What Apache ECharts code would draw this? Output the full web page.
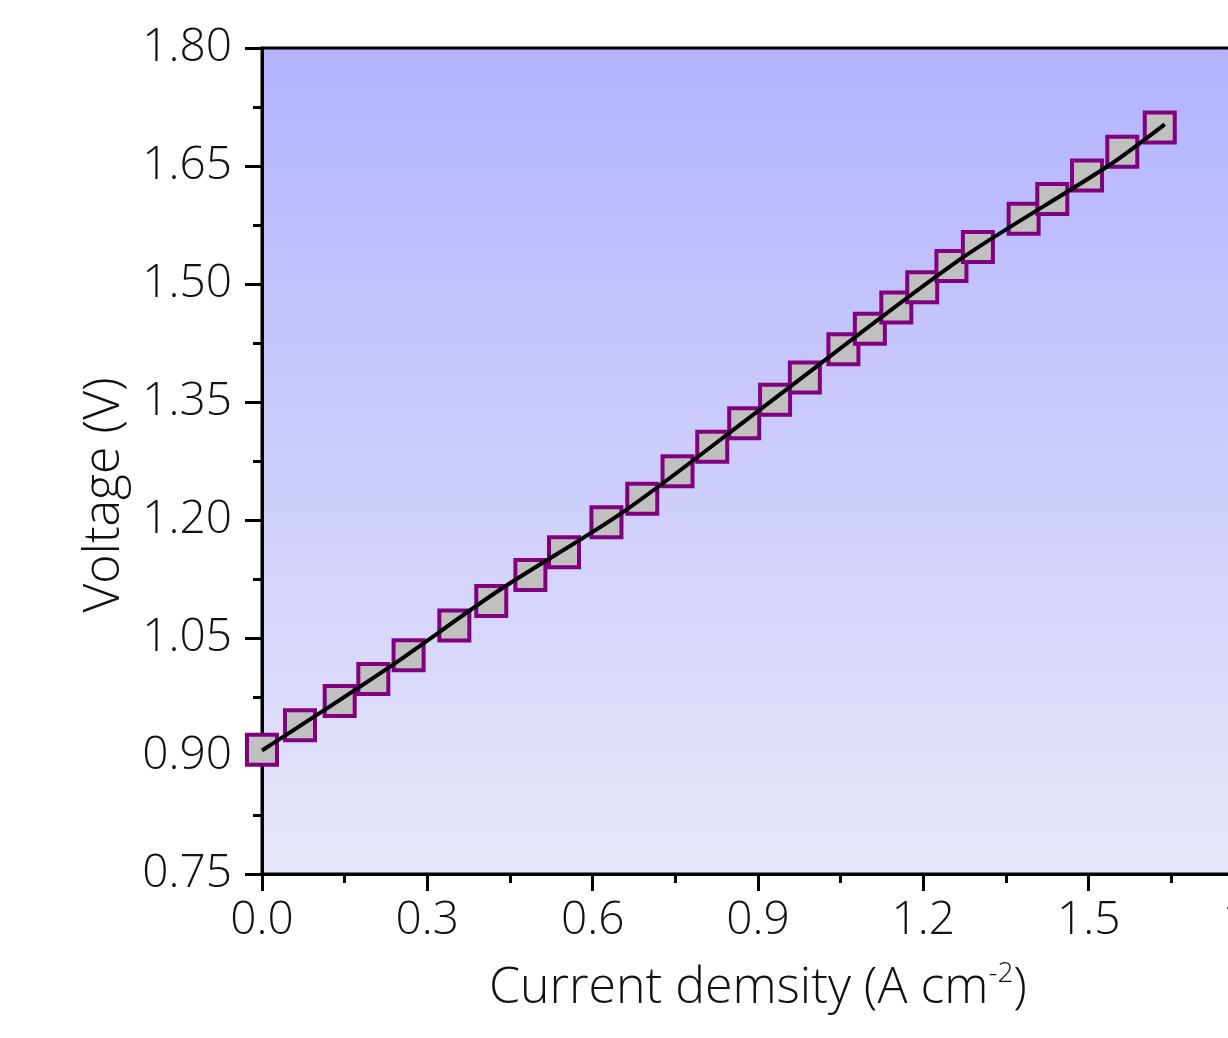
<!DOCTYPE html>
<html>
<head>
<meta charset="utf-8">
<title>Voltage vs current density</title>
<script src="https://cdn.jsdelivr.net/npm/echarts@6/dist/echarts.min.js"></script>
<style>
  html, body { margin: 0; padding: 0; background: #fff; }
  #chart { width: 1228px; height: 1038px; }
</style>
</head>
<body>
<div id="chart"></div>
<script>
  // measured points (squares)
  const currentDensity = [0.0, 0.069, 0.141, 0.202, 0.266, 0.349, 0.416, 0.487, 0.548, 0.625, 0.690, 0.754, 0.817, 0.875,
    0.931, 0.985, 1.055, 1.103, 1.151, 1.198, 1.251, 1.299, 1.382, 1.434, 1.497, 1.561, 1.629];
  const voltage = [0.908, 0.939, 0.970, 0.998, 1.028, 1.066, 1.097, 1.130, 1.159, 1.197, 1.227, 1.262, 1.293, 1.323,
    1.353, 1.381, 1.417, 1.443, 1.470, 1.496, 1.523, 1.547, 1.583, 1.608, 1.638, 1.668, 1.699];

  // black curve
  const lineCurrent = [0, 0.229, 0.431, 0.657, 0.903, 1.266, 1.533, 1.638];
  const lineVoltage = [0.907, 1.012, 1.111, 1.211, 1.340, 1.531, 1.649, 1.703];

  const xTicks = [0.0, 0.3, 0.6, 0.9, 1.2, 1.5, 1.8];
  const yTicks = [0.75, 0.90, 1.05, 1.20, 1.35, 1.50, 1.65, 1.80];

  const font = "'Open Sans', 'Noto Sans', sans-serif";
  const chart = echarts.init(document.getElementById('chart'), null, {renderer: 'canvas'});

  const points = currentDensity.map((x, i) => [x, voltage[i]]);
  const curve = lineCurrent.map((x, i) => [x, lineVoltage[i]]);

  chart.setOption({
    animation: false,
    backgroundColor: '#fff',
    grid: {
      left: 262,
      top: 48,
      width: 992,
      height: 826,
      outerBoundsMode: 'none',
      containLabel: false,
      show: true,
      borderColor: '#000',
      borderWidth: 3,
      backgroundColor: {
        type: 'linear', x: 0, y: 0, x2: 0, y2: 1,
        colorStops: [
          {offset: 0, color: '#b3b3ff'},
          {offset: 1, color: '#e6e6fa'}
        ]
      }
    },
    xAxis: {
      type: 'value',
      min: xTicks[0],
      max: xTicks[xTicks.length - 1],
      interval: 0.3,
      name: 'Current demsity (A cm{sup|-2})',
      nameLocation: 'middle',
      nameGap: 86,
      nameTextStyle: {
        fontFamily: font, fontSize: 50, fontWeight: 350, color: '#111',
        rich: {sup: {fontFamily: font, fontSize: 28, fontWeight: 350, color: '#111', padding: [0, 0, 30, 0]}}
      },
      axisLine: {lineStyle: {color: '#000', width: 3}},
      axisTick: {inside: false, length: 17, lineStyle: {color: '#000', width: 3}},
      minorTick: {show: true, splitNumber: 2, length: 9, lineStyle: {color: '#000', width: 3}},
      splitLine: {show: false},
      axisLabel: {
        fontFamily: font, fontSize: 46, fontWeight: 350, color: '#111', margin: 24,
        formatter: v => v.toFixed(1)
      }
    },
    yAxis: {
      type: 'value',
      min: yTicks[0],
      max: yTicks[yTicks.length - 1],
      interval: 0.15,
      name: 'Voltage (V)',
      nameLocation: 'middle',
      nameGap: 132,
      nameTextStyle: {fontFamily: font, fontSize: 50, fontWeight: 350, color: '#111', padding: [0, 68, 0, 0]},
      axisLine: {lineStyle: {color: '#000', width: 3}},
      axisTick: {inside: false, length: 17, lineStyle: {color: '#000', width: 3}},
      minorTick: {show: true, splitNumber: 2, length: 9, lineStyle: {color: '#000', width: 3}},
      splitLine: {show: false},
      axisLabel: {
        fontFamily: font, fontSize: 46, fontWeight: 350, color: '#111', margin: 30,
        formatter: v => v.toFixed(2)
      }
    },
    series: [
      {
        type: 'scatter',
        data: points,
        symbol: 'rect',
        symbolSize: 30,
        itemStyle: {color: '#c0c0c0', borderColor: '#800080', borderWidth: 4, opacity: 1},
        z: 2
      },
      {
        type: 'line',
        data: curve,
        showSymbol: false,
        smooth: 0.3,
        lineStyle: {color: '#000', width: 4},
        z: 3
      }
    ]
  });
</script>
</body>
</html>
